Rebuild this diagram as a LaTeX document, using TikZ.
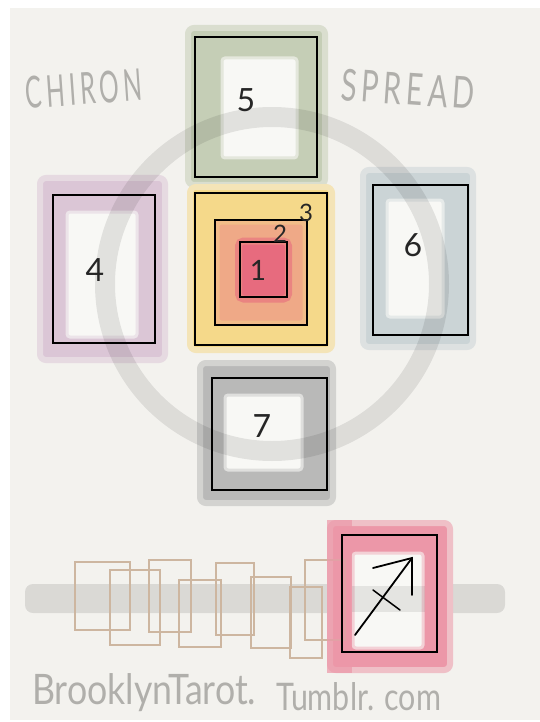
\documentclass[tikz,border=0pt]{standalone}
\usepackage{fontspec}
\usepackage{graphicx}
\newfontfamily\hand{Lato}
\definecolor{paper}{HTML}{F3F2EE}
\definecolor{innerwhite}{HTML}{F8F8F5}
\definecolor{tgreen}{HTML}{C5CEB6}
\definecolor{tpurple}{HTML}{DBC6D6}
\definecolor{tblue}{HTML}{CBD4D6}
\definecolor{tgray}{HTML}{B9B9B8}
\definecolor{tyellow}{HTML}{F5D98A}
\definecolor{tsalmon}{HTML}{EFA987}
\definecolor{tred}{HTML}{E6607C}
\definecolor{tpink}{HTML}{EC97A8}
\definecolor{tan}{HTML}{CDB6A0}
\definecolor{inkgray}{HTML}{B0AFAB}
\begin{document}
\begin{tikzpicture}[x=1pt,y=-1pt,
  tint/.style={rectangle, inner sep=0pt, rounded corners=6pt, draw=#1!55!paper, line width=6pt, fill=#1},
  hole/.style={rectangle, inner sep=0pt, rounded corners=3pt, fill=innerwhite, draw=innerwhite!60!#1, line width=3pt},
  cardline/.style={rectangle, inner sep=0pt, draw=black, line width=1.7pt},
  tancard/.style={rectangle, inner sep=0pt, draw=tan, line width=1.3pt},
  num/.style={font=\hand\fontsize{32}{32}\selectfont, text=black!85, inner sep=0pt},
  smallnum/.style={font=\hand\fontsize{24}{24}\selectfont, text=black!85, inner sep=0pt},
  title/.style={font=\hand\fontsize{44}{44}\selectfont, text=inkgray, inner sep=0pt},
  credit/.style={font=\hand\fontsize{#1}{#1}\selectfont, text=inkgray, inner sep=0pt},
  sz/.style 2 args={minimum width=#1pt, minimum height=#2pt}
]
\useasboundingbox (0,0) rectangle (540,722);
\fill[white] (0,0) rectangle (540,722);
\fill[paper] (10,8) rectangle (540,720);

% ---- card 5 (top, green)
\node[tint=tgreen, sz={137}{157}] (t5) at (256.5,106.5) {};
\node[hole=tgreen, sz={75}{100}] (h5) at (259.5,108) {};
% ---- card 4 (left, purple)
\node[tint=tpurple, sz={125}{182}] (t4) at (102.5,269) {};
\node[hole=tpurple, sz={70}{125}] (h4) at (102,274.5) {};
% ---- card 6 (right, blue-gray)
\node[tint=tblue, sz={110}{177}] (t6) at (418,258.5) {};
\node[hole=tblue, sz={56}{117}] (h6) at (415,258.5) {};
% ---- card 7 (bottom, gray)
\node[tint=tgray, sz={133}{140}] (t7) at (266.5,433) {};
\node[hole=tgray, sz={77}{75}] (h7) at (263.5,432.5) {};
% ---- centre stack
\node[tint=tyellow, sz={142}{163}] (t3) at (261,268.5) {};
\node[rectangle, inner sep=0pt, rounded corners=4pt, fill=tsalmon, draw=tsalmon!60!tyellow, line width=5pt, sz={88}{101}] (t2) at (261,272.5) {};
\node[rectangle, inner sep=0pt, rounded corners=5pt, fill=tred!85!tsalmon, draw=tred!50!tsalmon, line width=7pt, sz={50}{58}] (t1) at (263.5,270) {};

% ---- ring
\draw[black, opacity=0.09, line width=20pt] (272,284) circle[radius=167pt];

% ---- bottom band
\fill[black, opacity=0.1, rounded corners=8pt] (25,584) rectangle (505,613);

% ---- sagittarius card
\node[tint=tpink, sz={120}{147}] (ts) at (390,596.5) {};
\node[hole=tpink, sz={70}{95}] (hs) at (388,600.5) {};
\fill[black, opacity=0.08] (hs.west |- 0,586) rectangle (hs.east |- 0,612);

% ---- tan cards
\node[tancard, sz={55}{68}] (u1) at (102.5,596) {};
\node[tancard, sz={50}{75}] (l1) at (135,607.5) {};
\node[tancard, sz={42}{72}] (u2) at (170,596) {};
\node[tancard, sz={42}{67}] (l2) at (200,613.5) {};
\node[tancard, sz={38}{72}] (u3) at (235,599) {};
\node[tancard, sz={40}{71}] (l3) at (271,612.5) {};
\node[tancard, sz={32}{71}] (l4) at (306,622.5) {};
\node[tancard, sz={40}{80}] (u4) at (325,600) {};
% soften the part of u4 under the pink card
\fill[tpink, opacity=0.7] (ts.north west) rectangle (hs.west |- ts.south);

% ---- card outlines
\node[cardline, sz={122}{140}] (c5) at (256,107) {};
\node[cardline, sz={102}{148}] (c4) at (104,269) {};
\node[cardline, sz={95}{150}] (c6) at (420.5,260) {};
\node[cardline, sz={115}{112}] (c7) at (269.5,434) {};
\node[cardline, sz={132}{152}] (c3) at (261,269) {};
\node[cardline, line width=1.3pt, sz={92}{105}] (c2) at (261,272.5) {};
\node[cardline, line width=1.3pt, sz={47}{55}] (c1) at (263.5,269.5) {};
\node[cardline, sz={95}{117}] (cs) at (389.5,593.5) {};

% ---- numbers
\node[num] (n5) at (246,100) {5};
\node[num] (n4) at (95,270) {4};
\node[num] (n6) at (413,245) {6};
\node[num] (n7) at (262,426) {7};
\node[smallnum] (n3) at (306,213) {3};
\node[smallnum] (n2) at (280,234) {2};
\node[num, font=\hand\fontsize{28}{28}\selectfont] (n1) at (258,270) {1};

% ---- sagittarius glyph
\coordinate (sTail) at (355,635);
\coordinate (sTip) at (412,558);
\coordinate (sH1) at (373,568);
\coordinate (sH2) at (412,595);
\coordinate (sB1) at (373,590);
\coordinate (sB2) at (400,610);
\draw[black, line width=1.8pt, line cap=round] (sTail) -- (sTip);
\draw[black, line width=1.8pt, line cap=round] (sH1) -- (sTip) -- (sH2);
\draw[black, line width=1.5pt, line cap=round] (sB1) -- (sB2);

% ---- titles and credit
\node[title, rotate=4] (chiron) at (84,89) {\scalebox{0.56}[1]{C\,H\,I\,R\,O\,N}};
\node[title, rotate=-4] (spread) at (408,89) {\scalebox{0.66}[1]{S\,P\,R\,E\,A\,D}};
\node[credit=42, anchor=base west] (bt) at (32,704) {\scalebox{0.85}[1]{BrooklynTarot.}};
\node[credit=38, anchor=base west] (tm) at (276,710) {\scalebox{0.8}[1]{Tumblr. com}};
\end{tikzpicture}
\end{document}
